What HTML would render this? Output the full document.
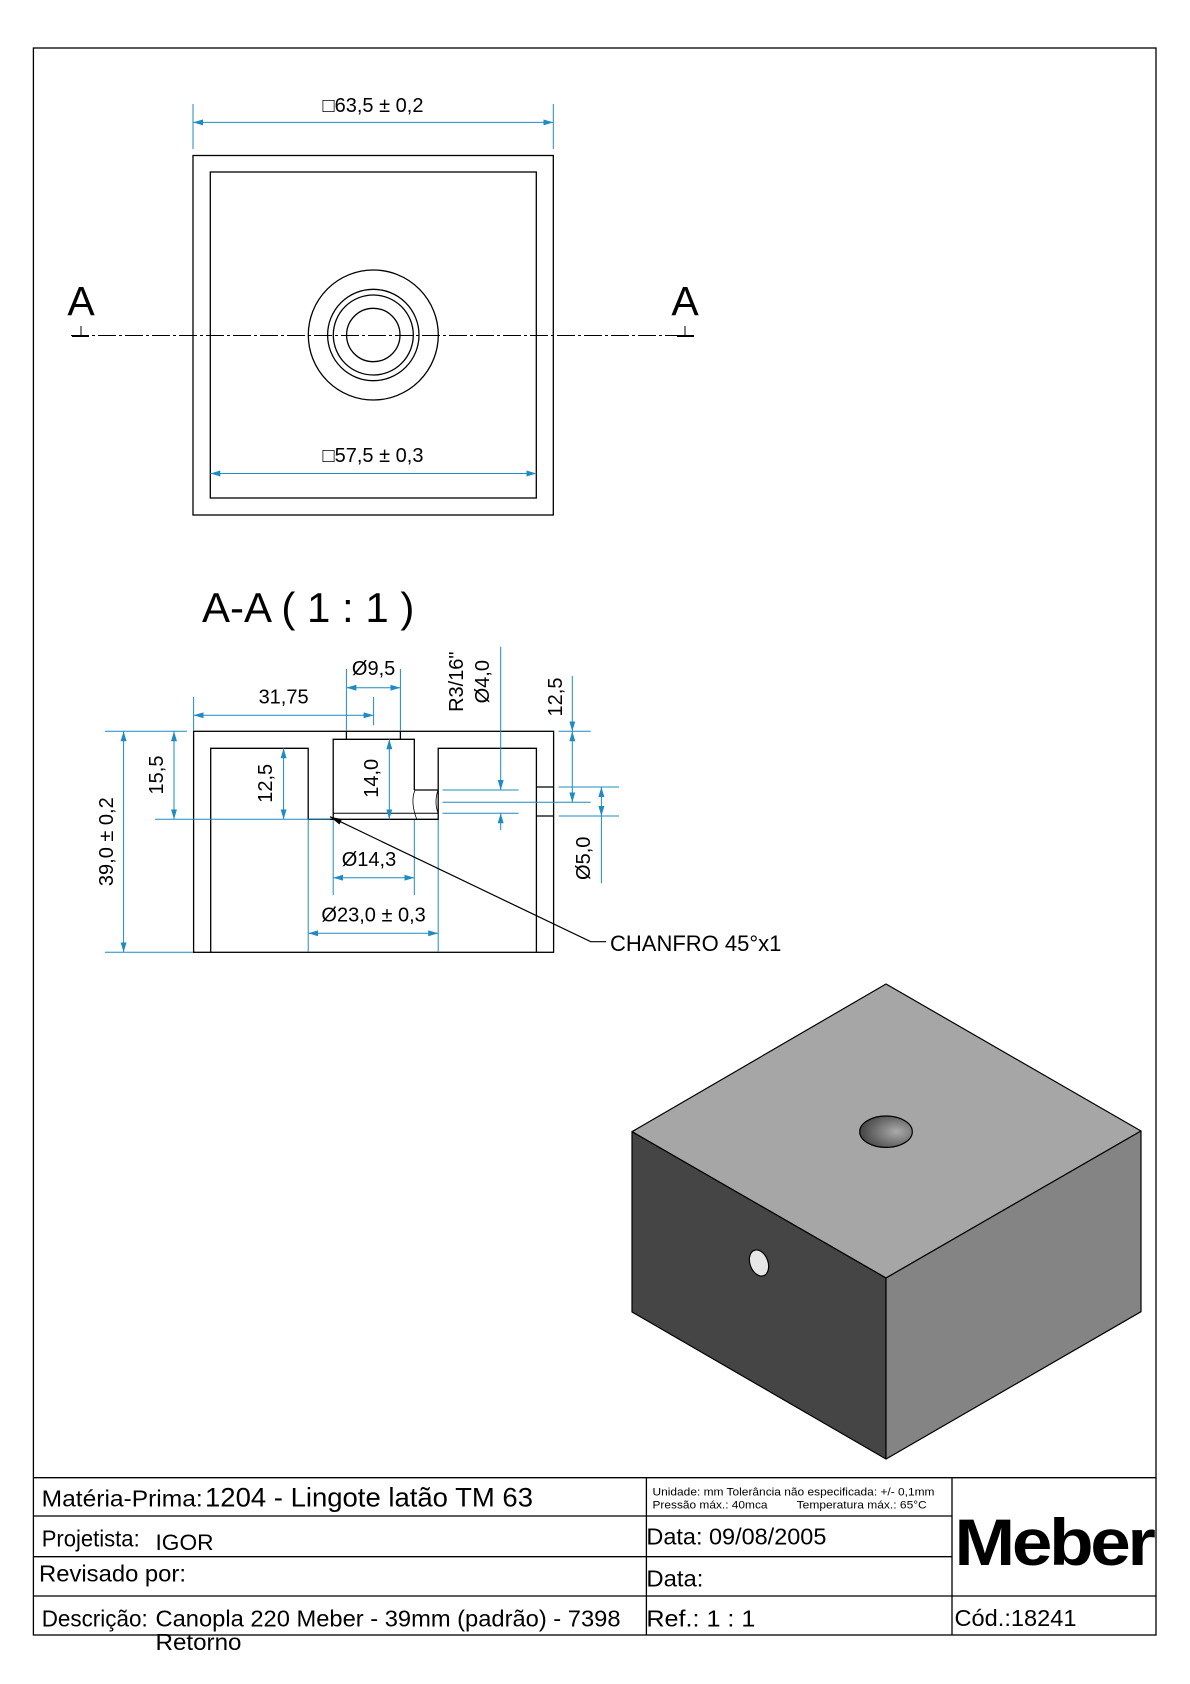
<!DOCTYPE html>
<html><head><meta charset="utf-8"><style>
html,body{margin:0;padding:0;background:#fff;}
svg{display:block;font-family:"Liberation Sans",sans-serif;}
</style></head><body>
<svg width="1190" height="1684" viewBox="0 0 1190 1684" xmlns="http://www.w3.org/2000/svg">
<defs>
<marker id="ar" viewBox="0 0 10 6" refX="10" refY="3" markerWidth="10" markerHeight="6" markerUnits="userSpaceOnUse" orient="auto-start-reverse"><path d="M0,0 L10,3 L0,6 z" fill="#1e8bc3"/></marker>
<marker id="ak" viewBox="0 0 12 6" refX="0" refY="3" markerWidth="12" markerHeight="6" markerUnits="userSpaceOnUse" orient="auto"><path d="M0,3 L12,0 L12,6 z" fill="#000"/></marker>
<radialGradient id="hg" cx="0.7" cy="0.5" r="0.7"><stop offset="0" stop-color="#aaa"/><stop offset="1" stop-color="#444"/></radialGradient>
</defs>
<rect x="0" y="0" width="1190" height="1684" fill="#fff"/>
<rect x="33.4" y="48" width="1122.6" height="1587" fill="none" stroke="#000" stroke-width="1.3"/>

<g fill="none" stroke="#000" stroke-width="1.3">
<rect x="193" y="155.5" width="360.3" height="359.5"/>
<rect x="210.3" y="172" width="326" height="326"/>
<circle cx="373.3" cy="335" r="65"/>
<circle cx="373.3" cy="335" r="45.7"/>
<circle cx="373.3" cy="335" r="40"/>
<circle cx="373.3" cy="335" r="26.7"/>
</g>
<line x1="71" y1="335.5" x2="694" y2="335.5" stroke="#000" stroke-width="0.9" stroke-dasharray="18,3,3,3"/>
<line x1="72" y1="336" x2="89" y2="336" stroke="#000" stroke-width="2"/>
<line x1="81" y1="326" x2="81" y2="336" stroke="#000" stroke-width="1"/>
<line x1="677" y1="336" x2="694" y2="336" stroke="#000" stroke-width="2"/>
<line x1="685" y1="326" x2="685" y2="336" stroke="#000" stroke-width="1"/>
<text x="81" y="315" font-size="41" text-anchor="middle">A</text>
<text x="685" y="315" font-size="41" text-anchor="middle">A</text>
<g stroke="#1e8bc3" stroke-width="1" fill="none">
<line x1="193" y1="104" x2="193" y2="149"/>
<line x1="553.3" y1="104" x2="553.3" y2="149"/>
<line x1="193" y1="122.4" x2="553.3" y2="122.4" marker-start="url(#ar)" marker-end="url(#ar)"/>
<line x1="210.3" y1="473.5" x2="536.3" y2="473.5" marker-start="url(#ar)" marker-end="url(#ar)"/>
</g>
<text x="373" y="112" font-size="20" text-anchor="middle">□63,5 ± 0,2</text>
<text x="373" y="462" font-size="20" text-anchor="middle">□57,5 ± 0,3</text>

<text x="202" y="622" font-size="42">A-A ( 1 : 1 )</text>
<g fill="none" stroke="#000" stroke-width="1.3">
<rect x="193.6" y="731.3" width="360" height="221"/>
<polyline points="210.7,952.3 210.7,748.3 308.2,748.3 308.2,819.3 333.2,819.3"/>
<polyline points="536.4,952.3 536.4,748.3 438.2,748.3 438.2,819.3 333.2,819.3"/>
<polyline points="333.2,819.3 333.2,739.3 414.3,739.3 414.3,790"/>
<line x1="346.4" y1="731.3" x2="346.4" y2="739.3"/>
<line x1="400.4" y1="731.3" x2="400.4" y2="739.3"/>
<line x1="333.2" y1="813.3" x2="438.2" y2="813.3" stroke-width="1"/>
<line x1="414.3" y1="790" x2="438.2" y2="790"/>
<line x1="536.4" y1="787" x2="553.6" y2="787"/>
<line x1="536.4" y1="816" x2="553.6" y2="816"/>
<path d="M415,790 Q410,802 417,820" stroke-width="0.8"/>
<path d="M438,790 Q434,802 438,813" stroke-width="0.8"/>
</g>
<g stroke="#1e8bc3" stroke-width="1" fill="none">
<line x1="105" y1="731.3" x2="187" y2="731.3"/>
<line x1="105" y1="952.3" x2="193" y2="952.3"/>
<line x1="123.6" y1="731.3" x2="123.6" y2="952.3" marker-start="url(#ar)" marker-end="url(#ar)"/>
<line x1="155" y1="819.3" x2="330" y2="819.3"/>
<line x1="174" y1="731.3" x2="174" y2="819.3" marker-start="url(#ar)" marker-end="url(#ar)"/>
<line x1="283.6" y1="748.3" x2="283.6" y2="819.3" marker-start="url(#ar)" marker-end="url(#ar)"/>
<line x1="389.3" y1="739.3" x2="389.3" y2="819.3" marker-start="url(#ar)" marker-end="url(#ar)"/>
<line x1="193.6" y1="697" x2="193.6" y2="731"/>
<line x1="373.6" y1="697" x2="373.6" y2="725"/>
<line x1="193.6" y1="715.3" x2="373.6" y2="715.3" marker-start="url(#ar)" marker-end="url(#ar)"/>
<line x1="346.4" y1="669" x2="346.4" y2="731"/>
<line x1="400.4" y1="669" x2="400.4" y2="731"/>
<line x1="346.4" y1="687.7" x2="400.4" y2="687.7" marker-start="url(#ar)" marker-end="url(#ar)"/>
<line x1="500.7" y1="646.7" x2="500.7" y2="790" marker-end="url(#ar)"/>
<line x1="500.7" y1="830" x2="500.7" y2="813.3" marker-end="url(#ar)"/>
<line x1="442.5" y1="790" x2="518.6" y2="790"/>
<line x1="442.5" y1="813.3" x2="518.6" y2="813.3"/>
<line x1="442.5" y1="802.3" x2="590.7" y2="802.3"/>
<line x1="558.6" y1="731.3" x2="590.7" y2="731.3"/>
<line x1="572.3" y1="676" x2="572.3" y2="731.3" marker-end="url(#ar)"/>
<line x1="572.3" y1="731.3" x2="572.3" y2="802.3" marker-start="url(#ar)" marker-end="url(#ar)"/>
<line x1="558.6" y1="787" x2="619" y2="787"/>
<line x1="558.6" y1="816" x2="619" y2="816"/>
<line x1="601.4" y1="787" x2="601.4" y2="816" marker-start="url(#ar)" marker-end="url(#ar)"/>
<line x1="601.4" y1="816" x2="601.4" y2="883.3"/>
<line x1="333.2" y1="820" x2="333.2" y2="895"/>
<line x1="414.3" y1="820" x2="414.3" y2="895"/>
<line x1="333.2" y1="877.7" x2="414.3" y2="877.7" marker-start="url(#ar)" marker-end="url(#ar)"/>
<line x1="308.2" y1="820" x2="308.2" y2="952"/>
<line x1="438.2" y1="820" x2="438.2" y2="952"/>
<line x1="308.2" y1="933.3" x2="438.2" y2="933.3" marker-start="url(#ar)" marker-end="url(#ar)"/>
</g>
<g font-size="20">
<text transform="translate(113,841.7) rotate(-90)" text-anchor="middle">39,0 ± 0,2</text>
<text transform="translate(163,775) rotate(-90)" text-anchor="middle">15,5</text>
<text transform="translate(272,783.3) rotate(-90)" text-anchor="middle">12,5</text>
<text transform="translate(378,778.3) rotate(-90)" text-anchor="middle">14,0</text>
<text transform="translate(463,681.7) rotate(-90)" text-anchor="middle">R3/16"</text>
<text transform="translate(489,681.7) rotate(-90)" text-anchor="middle">Ø4,0</text>
<text transform="translate(562,697) rotate(-90)" text-anchor="middle">12,5</text>
<text transform="translate(590,858.3) rotate(-90)" text-anchor="middle">Ø5,0</text>
<text x="283.6" y="703.3" text-anchor="middle">31,75</text>
<text x="373.6" y="675" text-anchor="middle">Ø9,5</text>
<text x="369" y="866" text-anchor="middle">Ø14,3</text>
<text x="373.6" y="921.7" text-anchor="middle">Ø23,0 ± 0,3</text>
<text x="610" y="951" font-size="22">CHANFRO 45°x1</text>
</g>
<polyline points="330,816.7 590.7,941.7 606,941.7" fill="none" stroke="#000" stroke-width="1.2" marker-start="url(#ak)"/>

<g stroke="#000" stroke-width="1.2" stroke-linejoin="round">
<polygon points="886,984 1141,1131 886,1278 632,1131.7" fill="#a6a6a6"/>
<polygon points="632,1131.7 886,1278 886,1459 632,1312" fill="#454545"/>
<polygon points="886,1278 1141,1131 1141,1311.7 886,1459" fill="#848484"/>
<ellipse cx="886" cy="1131.7" rx="26.3" ry="15.7" fill="url(#hg)"/>
<ellipse cx="759" cy="1263" rx="9" ry="13.5" transform="rotate(-20 759 1263)" fill="#e6e6e6"/>
</g>

<g stroke="#000" stroke-width="1.3" fill="none">
<line x1="33.4" y1="1477.7" x2="1156" y2="1477.7"/>
<line x1="33.4" y1="1516" x2="952" y2="1516"/>
<line x1="33.4" y1="1556.7" x2="952" y2="1556.7"/>
<line x1="33.4" y1="1596" x2="1156" y2="1596"/>
<line x1="646.4" y1="1477.7" x2="646.4" y2="1635"/>
<line x1="952" y1="1477.7" x2="952" y2="1635"/>
</g>
<text x="41.7" y="1506.7" font-size="23" textLength="161" lengthAdjust="spacingAndGlyphs">Matéria-Prima:</text>
<text x="205" y="1506.7" font-size="27" textLength="328" lengthAdjust="spacingAndGlyphs">1204 - Lingote latão TM 63</text>
<text x="652.5" y="1495.7" font-size="11" textLength="282" lengthAdjust="spacingAndGlyphs">Unidade: mm Tolerância não especificada: +/- 0,1mm</text>
<text x="652.5" y="1508.3" font-size="11" textLength="115" lengthAdjust="spacingAndGlyphs">Pressão máx.: 40mca</text>
<text x="796.7" y="1508.3" font-size="11" textLength="130" lengthAdjust="spacingAndGlyphs">Temperatura máx.: 65°C</text>
<text x="41.7" y="1546.7" font-size="23" textLength="98" lengthAdjust="spacingAndGlyphs">Projetista:</text>
<text x="155.5" y="1550" font-size="22" textLength="58" lengthAdjust="spacingAndGlyphs">IGOR</text>
<text x="646.4" y="1544.3" font-size="23" textLength="180" lengthAdjust="spacingAndGlyphs">Data: 09/08/2005</text>
<text x="39" y="1581.7" font-size="23" textLength="147" lengthAdjust="spacingAndGlyphs">Revisado por:</text>
<text x="646.4" y="1586.7" font-size="23" textLength="57" lengthAdjust="spacingAndGlyphs">Data:</text>
<text x="41.7" y="1626.7" font-size="23" textLength="106" lengthAdjust="spacingAndGlyphs">Descrição:</text>
<text x="155.5" y="1626.7" font-size="23" textLength="465" lengthAdjust="spacingAndGlyphs">Canopla 220 Meber - 39mm (padrão) - 7398</text>
<text x="155.5" y="1650" font-size="23" textLength="86" lengthAdjust="spacingAndGlyphs">Retorno</text>
<text x="646.4" y="1626.7" font-size="23" textLength="109" lengthAdjust="spacingAndGlyphs">Ref.:  1 : 1</text>
<text x="954.5" y="1626" font-size="23" textLength="122" lengthAdjust="spacingAndGlyphs">Cód.:18241</text>
<text x="954.5" y="1565" font-size="66" font-weight="bold" textLength="198" lengthAdjust="spacingAndGlyphs" letter-spacing="-3">Meber</text>
</svg>
</body></html>
